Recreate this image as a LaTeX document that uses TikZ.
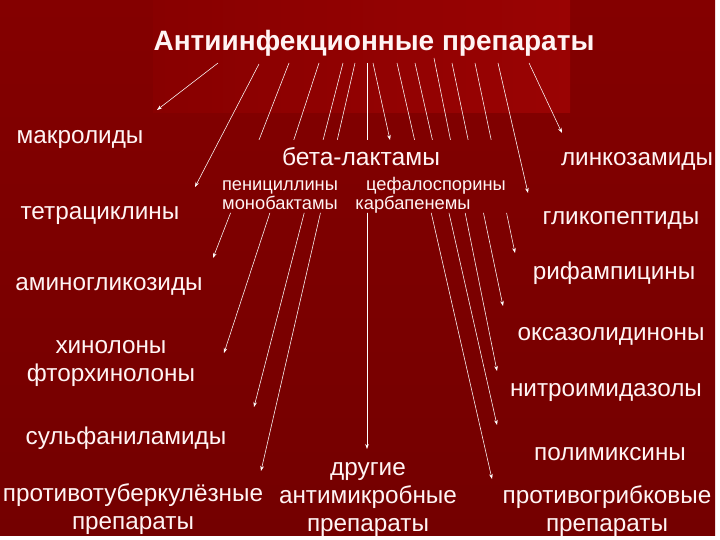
\documentclass[tikz,border=0pt]{standalone}
\usepackage{fontspec}
\setmainfont{Liberation Sans}
\usetikzlibrary{arrows.meta}
\definecolor{bgtop}{HTML}{840000}
\definecolor{bgbot}{HTML}{740000}
\definecolor{hlleft}{HTML}{880000}
\definecolor{hlright}{HTML}{9A0303}
\definecolor{txt}{HTML}{FFF4F4}
\tikzset{
  ttl/.style={text=txt, inner sep=0pt, anchor=mid, font=\bfseries\fontsize{28}{32}\selectfont},
  lab/.style={text=txt, inner sep=0pt, anchor=mid, font=\fontsize{24.3}{28}\selectfont},
  mlab/.style={text=txt, inner sep=0pt, align=center, font=\fontsize{24.3}{28}\selectfont},
  sub/.style={text=txt, inner sep=0pt, anchor=mid, font=\fontsize{18.3}{20}\selectfont},
  ln/.style={draw=white, line width=0.6pt},
  arr/.style={draw=white, line width=0.55pt, -{Stealth[length=5pt,width=3.6pt]}}
}
\begin{document}
\begin{tikzpicture}[x=1pt,y=-1pt]
\useasboundingbox (0,0) rectangle (720,540);
\fill[white] (0,0) rectangle (720,540);
\shade[top color=bgtop, bottom color=bgbot] (0,0) rectangle (715,535);
\shade[left color=hlleft, right color=hlright] (153,0) rectangle (570,113);

% title and labels
\node[ttl] (title) at (374,48) {Антиинфекционные препараты};

\node[lab] (makro) at (80,141) {макролиды};
\node[lab] (tetra) at (100,217) {тетрациклины};
\node[lab] (amino) at (109,288) {аминогликозиды};
\node[mlab] (hino) at (111,363) {хинолоны\\фторхинолоны};
\node[lab] (sulf) at (126,442) {сульфаниламиды};
\node[mlab] (tub) at (133,509) {противотуберкулёзные\\препараты};

\node[lab, font=\fontsize{24.6}{28}\selectfont] (beta) at (361,163) {бета-лактамы};
\node[sub] (pen) at (280,188) {пенициллины};
\node[sub] (mono) at (280,207) {монобактамы};
\node[sub] (cef) at (436,188) {цефалоспорины};
\node[sub] (karb) at (413,207) {карбапенемы};

\node[mlab] (other) at (368,499) {другие\\антимикробные\\препараты};

\node[lab] (link) at (637,163) {линкозамиды};
\node[lab] (glik) at (621,222) {гликопептиды};
\node[lab] (rif) at (614,277) {рифампицины};
\node[lab] (oks) at (611,338) {оксазолидиноны};
\node[lab] (nitro) at (606,394) {нитроимидазолы};
\node[lab] (poli) at (610,458) {полимиксины};
\node[mlab] (grib) at (607,511) {противогрибковые\\препараты};

% connector end points
\coordinate (s1) at (218,63);  \coordinate (e1) at (157,110);
\coordinate (s2) at (259,64);  \coordinate (e2) at (195,187);
\coordinate (s3) at (289,63);  \coordinate (e3) at (213,258);
\coordinate (s4) at (319,63);  \coordinate (e4) at (224,353);
\coordinate (s5) at (343,63);  \coordinate (e5) at (254,407);
\coordinate (s6) at (355,63);  \coordinate (e6) at (261,471);
\coordinate (s7) at (367,63);  \coordinate (e7) at (367,449);
\coordinate (s8) at (373,63);  \coordinate (e8) at (390,140);
\coordinate (s9) at (397,63);  \coordinate (e9) at (492,479);
\coordinate (s10) at (415,63); \coordinate (e10) at (497,425);
\coordinate (s11) at (434,58); \coordinate (e11) at (497,371);
\coordinate (s12) at (452,63); \coordinate (e12) at (503,306);
\coordinate (s13) at (475,63); \coordinate (e13) at (515,253);
\coordinate (s14) at (498,63); \coordinate (e14) at (528,193);
\coordinate (s15) at (529,63); \coordinate (e15) at (562,133);

% uninterrupted connectors
\draw[arr] (s1) -- (e1);
\draw[arr] (s2) -- (e2);
\draw[arr] (s8) -- (e8);
\draw[arr] (s14) -- (e14);
\draw[arr] (s15) -- (e15);

% connectors passing behind the beta-lactam block
\begin{scope}
\clip (0,0) -- (720,0) -- (720,540) -- (0,540) -- cycle
      (222,140) -- (222,213) -- (512,213) -- (512,140) -- cycle;
\draw[arr] (s3) -- (e3);
\draw[arr] (s4) -- (e4);
\draw[arr] (s5) -- (e5);
\draw[arr] (s6) -- (e6);
\draw[arr] (s7) -- (e7);
\draw[arr] (s9) -- (e9);
\draw[arr] (s10) -- (e10);
\draw[arr] (s11) -- (e11);
\draw[arr] (s12) -- (e12);
\draw[arr] (s13) -- (e13);
\end{scope}
\end{tikzpicture}
\end{document}
